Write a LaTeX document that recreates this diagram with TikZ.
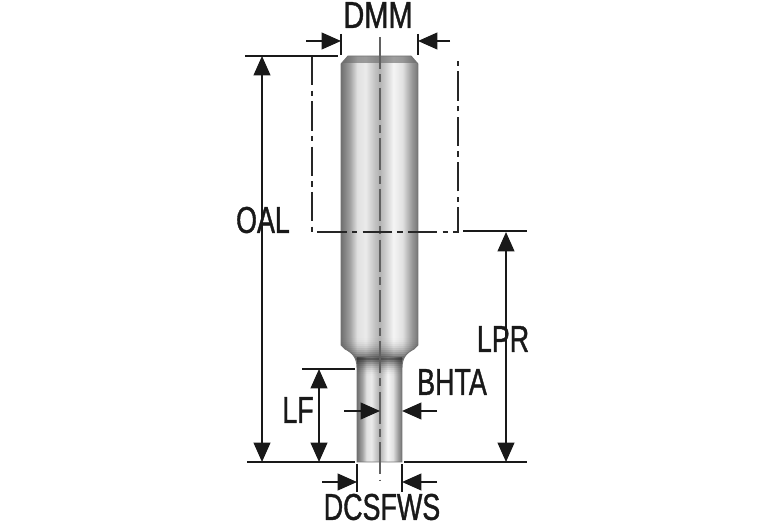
\documentclass[tikz,border=0pt]{standalone}
\usepackage{fontspec}
\setmainfont{Liberation Sans}[FakeStretch=0.72,FakeBold=1]
\usetikzlibrary{arrows.meta}
\pgfdeclarehorizontalshading{toolshade}{100bp}{
  color(0bp)=(black!56); color(25bp)=(black!56); color(27.5bp)=(black!48); color(31bp)=(black!36); color(35.5bp)=(black!12); color(41bp)=(black!8);
  color(47bp)=(black!24); color(50bp)=(black!30); color(53bp)=(black!22); color(59bp)=(black!4); color(65bp)=(black!12);
  color(71bp)=(black!40); color(75bp)=(black!54); color(100bp)=(black!54)}
\tikzset{
  dimline/.style={line width=1.5pt,draw=black!90},
  dimarrow/.style={dimline,-{Triangle[length=14.5pt,width=12.5pt]}},
  dimarrows/.style={dimline,{Triangle[length=14.5pt,width=12.5pt]}-{Triangle[length=14.5pt,width=12.5pt]}},
  extline/.style={line width=1.4pt,draw=black!90},
  phantomline/.style={line width=1.7pt,draw=black!85,dash pattern=on 22pt off 4pt on 4pt off 4pt},
  centerline/.style={line width=1.2pt,draw=black!62,dash pattern=on 24pt off 4pt on 6pt off 4pt},
  dimlabel/.style={font=\fontsize{28}{30}\selectfont,text=black!90,inner sep=0pt},
  edge/.style={line width=0.7pt,draw=black!55}
}
\newcommand{\toolpath}{
  (348,56) -- (411,56) -- (418,64) -- (418,345) -- (414,349)
  .. controls (406,353) and (402,358) .. (402,368)
  -- (402,462) -- (357,462) -- (357,368)
  .. controls (357,358) and (353,353) .. (345,349)
  -- (341,345) -- (341,64) -- cycle}
\begin{document}
\begin{tikzpicture}[x=0.75pt,y=-0.75pt]
\useasboundingbox (0,0) rectangle (767,523);
% tool body
\begin{scope}
\clip \toolpath;
\shade[shading=toolshade] (341,50) rectangle (418,364);
\shade[shading=toolshade] (357,358) rectangle (402,470);
\fill[black!60,opacity=0.6] (341,56) rectangle (418,63);
\foreach \yy in {336,338,...,376}{
  \pgfmathsetmacro{\op}{\yy<358 ? 0.72*((\yy-336)/22)^2 : 0.72*(1-(\yy-358)/18)^2}
  \fill[black!85,opacity=\op] (340,\yy) rectangle (420,\yy+2);
}
\end{scope}
\draw[edge] \toolpath;
% centre line
\coordinate (ct) at (380,37);
\coordinate (cb) at (380,481);
\draw[centerline] (ct) -- (cb);
% phantom outline
\coordinate (pa) at (312,56);
\coordinate (pb) at (312,232);
\coordinate (pc) at (458,232);
\coordinate (pd) at (458,56);
\draw[phantomline] (pa) -- (pb) -- (pc) -- (pd);
% extension lines
\coordinate (oalT) at (245,56);
\coordinate (oalTe) at (338,56);
\coordinate (lprT) at (463,231);
\coordinate (lprTe) at (527,231);
\coordinate (baseL) at (247,462);
\coordinate (baseLe) at (355,462);
\coordinate (baseR) at (404,462);
\coordinate (baseRe) at (527,462);
\coordinate (lfT) at (302,369);
\coordinate (lfTe) at (355,369);
\coordinate (dmL1) at (341,34);
\coordinate (dmL2) at (341,55);
\coordinate (dmR1) at (418,34);
\coordinate (dmR2) at (418,55);
\coordinate (dcL1) at (357,464);
\coordinate (dcL2) at (357,492);
\coordinate (dcR1) at (402,464);
\coordinate (dcR2) at (402,492);
\foreach \a/\b in {oalT/oalTe,lprT/lprTe,baseL/baseLe,baseR/baseRe,lfT/lfTe,dmL1/dmL2,dmR1/dmR2,dcL1/dcL2,dcR1/dcR2}
  \draw[extline] (\a) -- (\b);
% dimension arrows
\coordinate (oalA) at (262,56);
\coordinate (oalB) at (262,462);
\coordinate (lprA) at (506,232);
\coordinate (lprB) at (506,462);
\coordinate (lfA) at (319,369);
\coordinate (lfB) at (319,462);
\draw[dimarrows] (oalA) -- (oalB);
\draw[dimarrows] (lprA) -- (lprB);
\draw[dimarrows] (lfA) -- (lfB);
\coordinate (dmLs) at (306,41);
\coordinate (dmLe) at (341,41);
\coordinate (dmRs) at (450,41);
\coordinate (dmRe) at (418,41);
\coordinate (bhLs) at (344,411);
\coordinate (bhLe) at (380,411);
\coordinate (bhRs) at (437,411);
\coordinate (bhRe) at (402,411);
\coordinate (dcLs) at (322,482);
\coordinate (dcLe) at (357,482);
\coordinate (dcRs) at (437,482);
\coordinate (dcRe) at (402,482);
\foreach \a/\b in {dmLs/dmLe,dmRs/dmRe,bhLs/bhLe,bhRs/bhRe,dcLs/dcLe,dcRs/dcRe}
  \draw[dimarrow] (\a) -- (\b);
% labels
\node[dimlabel] (dmm) at (378,15) {\scalebox{1.08}[1]{DMM}};
\node[dimlabel] (oal) at (263,220) {OAL};
\node[dimlabel] (lpr) at (503,339) {LPR};
\node[dimlabel] (bhta) at (452,382) {BHTA};
\node[dimlabel] (lf) at (298,410) {LF};
\node[dimlabel] (dcsfws) at (382,507) {DCSFWS};
\end{tikzpicture}
\end{document}
